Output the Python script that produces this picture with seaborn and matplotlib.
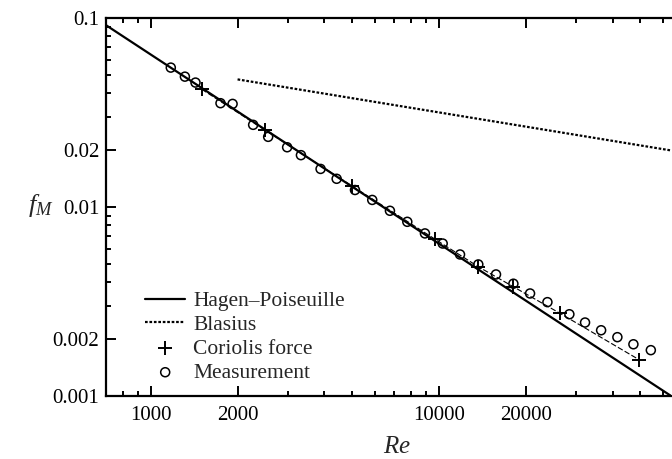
import numpy as np
import pandas as pd
import matplotlib
matplotlib.use("Agg")
import matplotlib.pyplot as plt
import seaborn as sns
from matplotlib.ticker import FixedLocator, FixedFormatter, NullFormatter

# ---- data ----
hp_re = [700, 64000]
hp_f = [0.0914, 0.001]

blasius_re = [2000, 64000]
blasius_f = [0.0473, 0.0199]

cor_re = [1500, 2500, 5000, 9700, 13700, 18100, 26300, 49400]
cor_f = [0.0420, 0.0254, 0.0129, 0.00675, 0.00483, 0.00379, 0.00274, 0.00156]

meas_re = [1173, 1313, 1429, 1745, 1922, 2265, 2554, 2972, 3318, 3882, 4414,
           5110, 5866, 6757, 7762, 8937, 10300, 11830, 13690, 15770, 18120,
           20700, 23780, 28340, 32120, 36520, 41590, 47270, 54330]
meas_f = [0.0546, 0.0489, 0.0455, 0.0354, 0.0351, 0.0272, 0.0235, 0.0207,
          0.0188, 0.0159, 0.0141, 0.0123, 0.0109, 0.00955, 0.00835, 0.00725,
          0.00641, 0.00561, 0.00497, 0.00440, 0.00393, 0.00349, 0.00314,
          0.00271, 0.00245, 0.00223, 0.00205, 0.00188, 0.00175]

x_major = [1000, 2000, 10000, 20000]
x_major_labels = ["1000", "2000", "10000", "20000"]
y_major = [0.001, 0.002, 0.01, 0.02, 0.1]
y_major_labels = ["0.001", "0.002", "0.01", "0.02", "0.1"]

sns.set_style("ticks")
plt.rcParams["font.family"] = ["Liberation Serif", "DejaVu Serif"]
plt.rcParams["mathtext.fontset"] = "custom"
plt.rcParams["mathtext.rm"] = "Liberation Serif"
plt.rcParams["mathtext.it"] = "Liberation Serif:italic"

fig = plt.figure(figsize=(6.72, 4.59), dpi=100)
ax = fig.add_axes([0.158, 0.137, 0.841, 0.824])

df_hp = pd.DataFrame({"Re": hp_re, "f": hp_f})
df_bl = pd.DataFrame({"Re": blasius_re, "f": blasius_f})
df_cor = pd.DataFrame({"Re": cor_re, "f": cor_f})
df_meas = pd.DataFrame({"Re": meas_re, "f": meas_f})

sns.lineplot(data=df_hp, x="Re", y="f", ax=ax, color="black", lw=1.6,
             label="Hagen\u2013Poiseuille", zorder=3)
sns.lineplot(data=df_bl, x="Re", y="f", ax=ax, color="black", lw=1.6,
             linestyle=(0, (1.2, 0.8)), label="Blasius", zorder=3)
sns.lineplot(data=df_cor, x="Re", y="f", ax=ax, color="black", lw=0.8,
             linestyle=(0, (5, 2)), zorder=2, legend=False)
sns.scatterplot(data=df_cor, x="Re", y="f", ax=ax, marker="+", s=100,
                color="black", linewidth=1.4, label="Coriolis force", zorder=4)
sns.scatterplot(data=df_meas, x="Re", y="f", ax=ax, marker="o", s=42,
                facecolor="none", edgecolor="black", linewidth=1.1,
                label="Measurement", zorder=5)

ax.set_xscale("log")
ax.set_yscale("log")
ax.set_xlim(700, 64000)
ax.set_ylim(0.001, 0.1)

ax.xaxis.set_major_locator(FixedLocator(x_major))
ax.xaxis.set_major_formatter(FixedFormatter(x_major_labels))
xminor = [m * 10 ** d for d in (2, 3, 4) for m in range(1, 10)]
xminor = [v for v in xminor if v not in x_major and 700 < v <= 64000]
ax.xaxis.set_minor_locator(FixedLocator(xminor))
ax.xaxis.set_minor_formatter(NullFormatter())

ax.yaxis.set_major_locator(FixedLocator(y_major))
ax.yaxis.set_major_formatter(FixedFormatter(y_major_labels))
yminor = [m * 10 ** d for d in (-3, -2) for m in range(1, 10)]
yminor = [v for v in yminor if not any(abs(v - y) < 1e-9 for y in y_major)]
ax.yaxis.set_minor_locator(FixedLocator(yminor))
ax.yaxis.set_minor_formatter(NullFormatter())

ax.tick_params(which="both", direction="in", top=True, right=False,
               labelsize=15, width=1.4, colors="black")
ax.tick_params(axis="y", pad=5)
ax.tick_params(axis="x", pad=7)
ax.tick_params(which="major", length=7)
ax.tick_params(which="minor", length=3.5)

for side in ("left", "bottom", "top"):
    ax.spines[side].set_linewidth(1.6)
    ax.spines[side].set_color("black")
ax.spines["right"].set_visible(False)

ax.set_xlabel("$\\mathit{Re}$", fontsize=18)
ax.xaxis.set_label_coords(0.515, -0.135)
ax.xaxis.label.set_va("center")
ax.set_ylabel("$f_M$", fontsize=19, rotation=0, va="center", ha="center")
ax.yaxis.set_label_coords(-0.115, 0.505)

leg = ax.legend(loc="lower left", bbox_to_anchor=(0.069, 0.035), frameon=False,
                fontsize=15.5, handlelength=1.86, handletextpad=0.37,
                labelspacing=0.18, borderaxespad=0.0, borderpad=0.0)

fig.savefig("out.png", dpi=100)
